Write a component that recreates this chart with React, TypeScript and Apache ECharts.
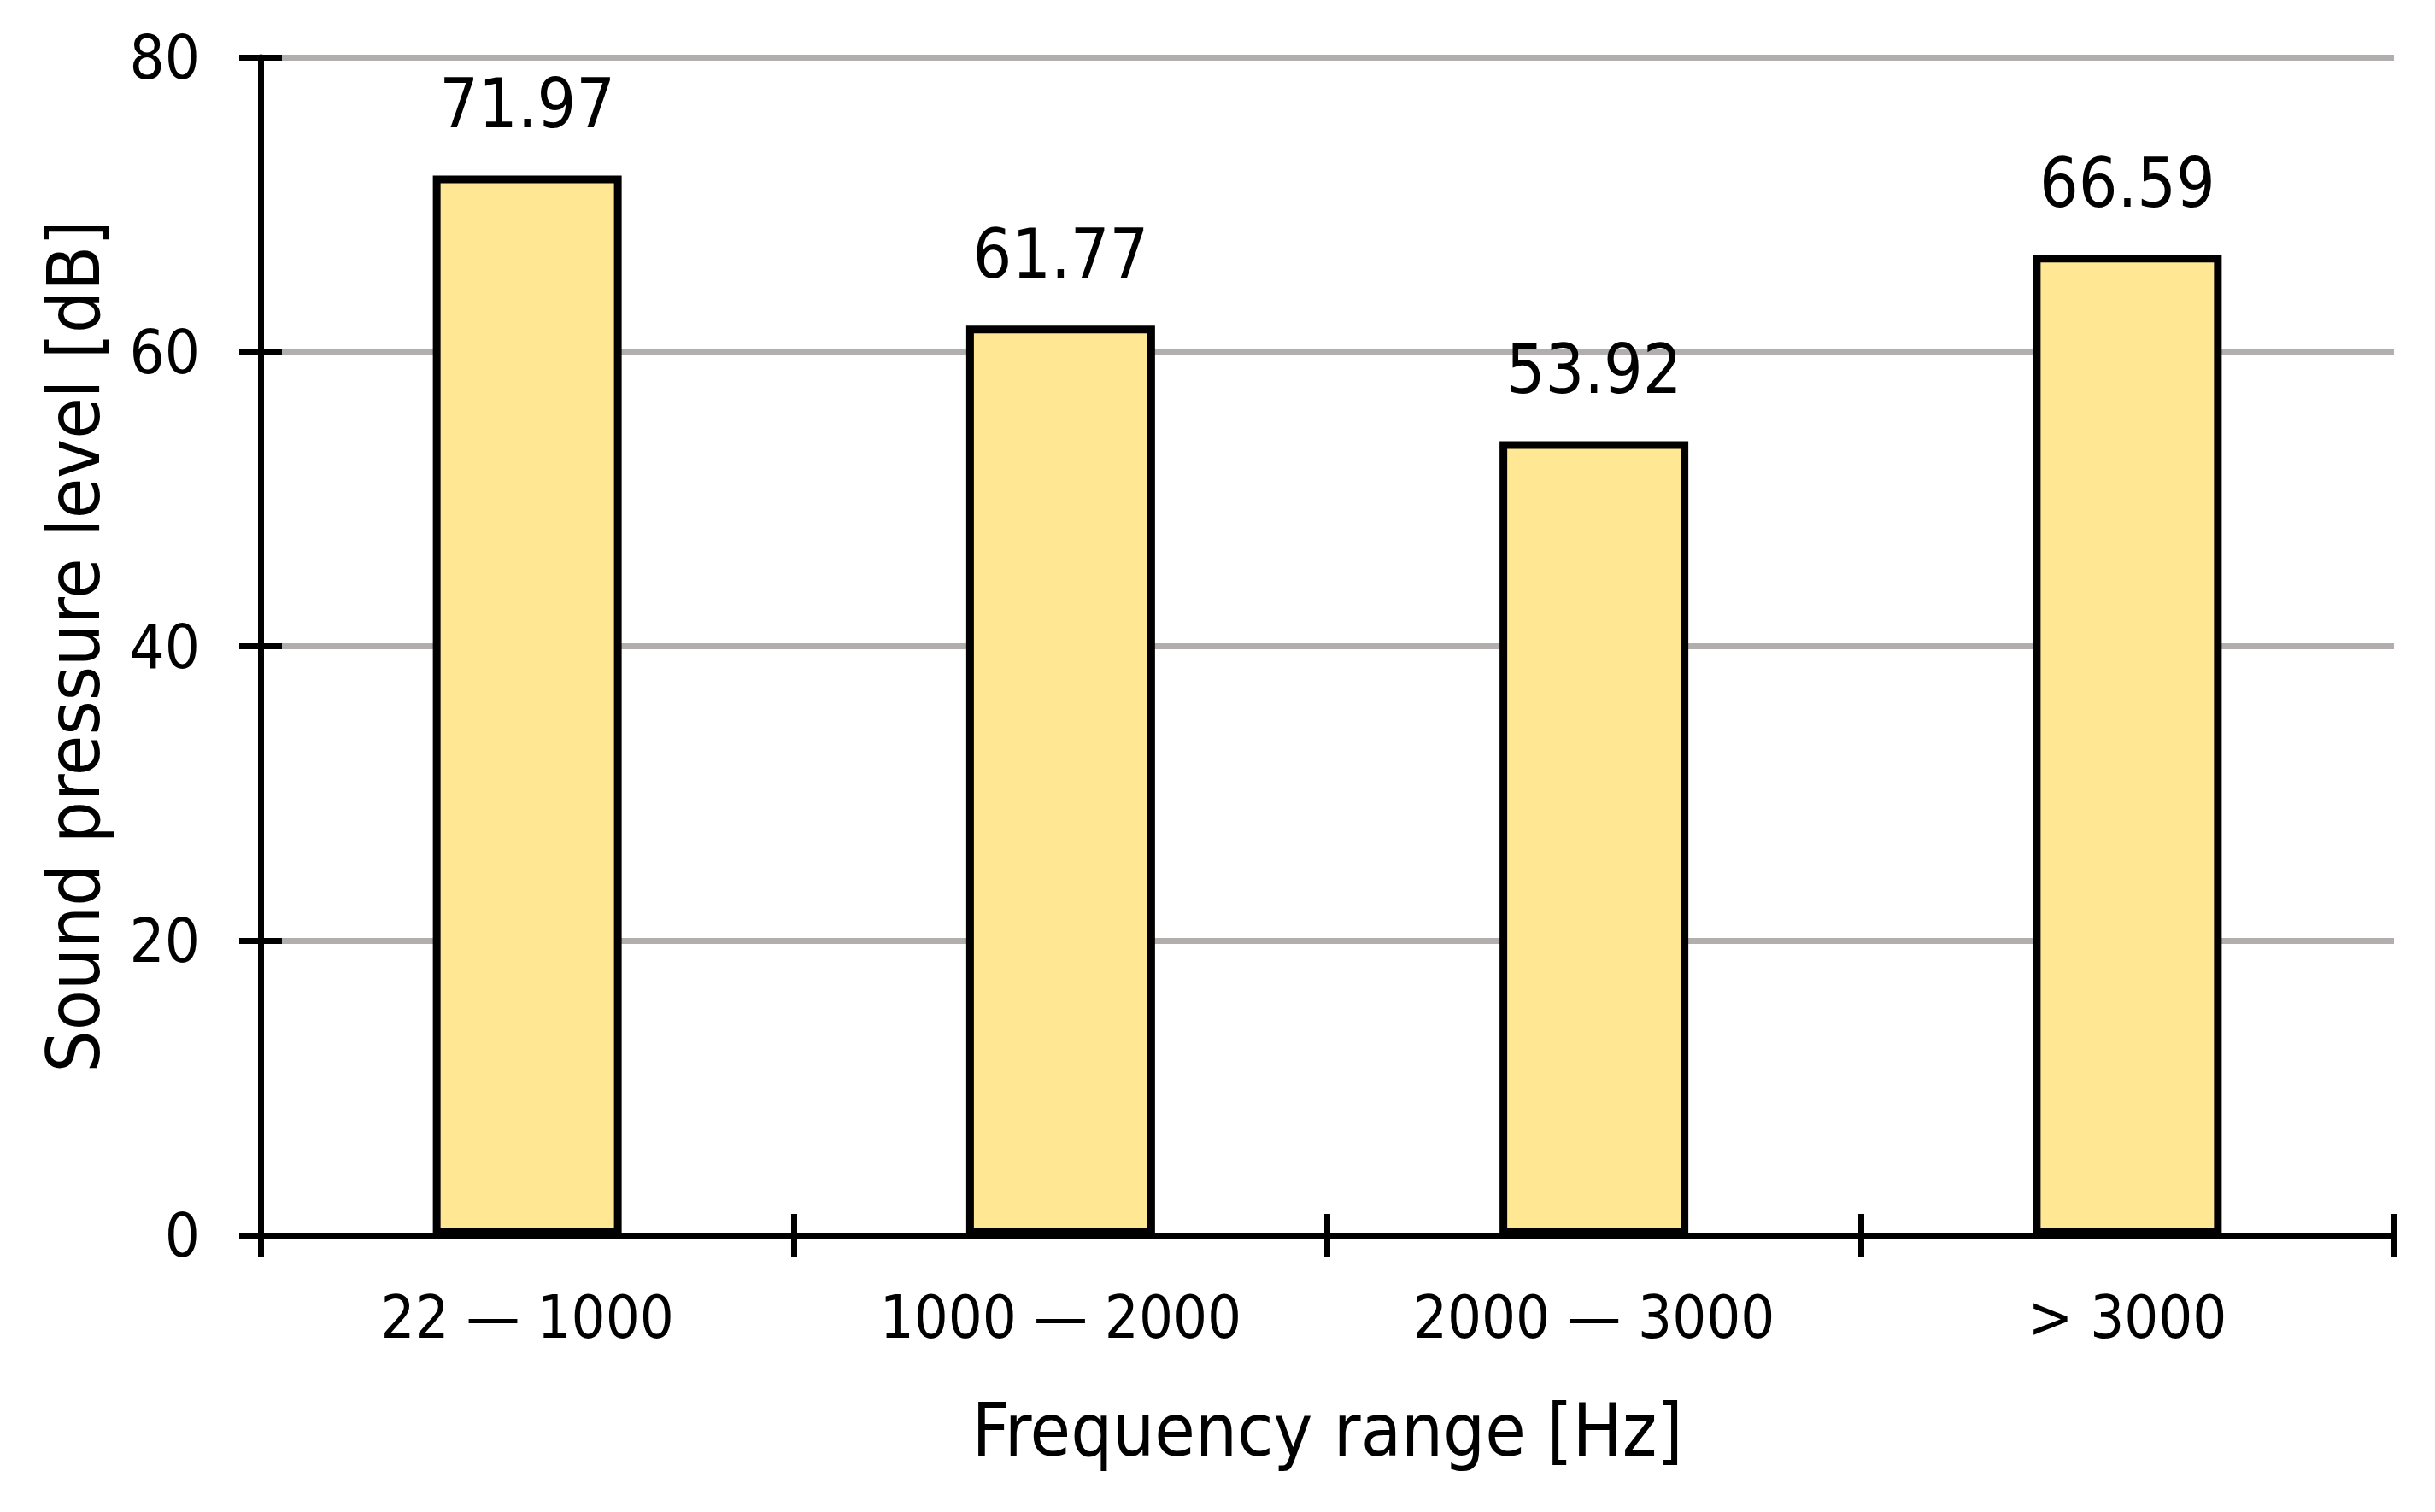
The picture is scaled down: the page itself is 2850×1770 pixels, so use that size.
import React, { useEffect, useRef } from "react";
import * as echarts from "echarts";

const categories = ["22 — 1000", "1000 — 2000", "2000 — 3000", "> 3000"];
const values = [71.97, 61.77, 53.92, 66.59];
const yMin = 0;
const yMax = 80;
const yInterval = 20;
const xTitle = "Frequency range [Hz]";
const yTitle = "Sound pressure level [dB]";

const FONT = "'Liberation Sans Narrow', 'Arial Narrow', 'DejaVu Sans Condensed', sans-serif";
const BLACK = "#000000";
const lineW = 7;
const tickLen = 25;

export default function App() {
  const ref = useRef<HTMLDivElement>(null);
  useEffect(() => {
    if (!ref.current) return;
    const chart = echarts.init(ref.current, null, { renderer: "svg" });
    const tickStyle = { color: BLACK, width: lineW };
    chart.setOption({
      animation: false,
      backgroundColor: "#ffffff",
      grid: { left: 305, right: 48, top: 67, bottom: 324 },
      xAxis: [
        {
          type: "category",
          data: categories,
          position: "bottom",
          axisLine: { show: true, lineStyle: { color: BLACK, width: lineW } },
          axisTick: { show: true, length: tickLen, lineStyle: tickStyle },
          axisLabel: { fontSize: 70, color: BLACK, margin: 61, fontFamily: FONT },
          splitLine: { show: false },
          name: xTitle,
          nameLocation: "middle",
          nameGap: 185,
          nameTextStyle: { fontSize: 86, color: BLACK, fontFamily: FONT },
        },
        {
          type: "category",
          data: categories,
          position: "bottom",
          offset: 0,
          axisLine: { show: false },
          axisTick: { show: true, inside: true, length: tickLen, lineStyle: tickStyle },
          axisLabel: { show: false },
          splitLine: { show: false },
        },
      ],
      yAxis: [
        {
          type: "value",
          min: yMin,
          max: yMax,
          interval: yInterval,
          position: "left",
          axisLine: { show: true, lineStyle: { color: BLACK, width: lineW } },
          axisTick: { show: true, length: tickLen, lineStyle: tickStyle },
          axisLabel: { fontSize: 72, color: BLACK, margin: 71, fontFamily: FONT },
          splitLine: { show: true, lineStyle: { color: "#b1aead", width: 7 } },
          name: yTitle,
          nameLocation: "middle",
          nameGap: 176,
          nameTextStyle: { fontSize: 86, color: BLACK, fontFamily: FONT },
        },
        {
          type: "value",
          min: yMin,
          max: yMax,
          interval: yInterval,
          position: "left",
          offset: 0,
          axisLine: { show: false },
          axisTick: { show: true, inside: true, length: tickLen, lineStyle: tickStyle },
          axisLabel: { show: false },
          splitLine: { show: false },
        },
      ],
      series: [
        {
          type: "bar",
          xAxisIndex: 0,
          yAxisIndex: 0,
          data: values,
          barWidth: "35.4%",
          itemStyle: { color: "#ffe794", borderColor: BLACK, borderWidth: 9 },
          label: {
            show: true,
            position: "top",
            distance: 44,
            fontSize: 80,
            color: BLACK,
            fontFamily: FONT,
            formatter: (p: any) => Number(p.value).toFixed(2),
          },
        },
      ],
    });
    return () => chart.dispose();
  }, []);
  return (
    <div
      ref={ref}
      style={{ position: "fixed", left: 0, top: 0, width: 2850, height: 1770, background: "#fff" }}
    />
  );
}
